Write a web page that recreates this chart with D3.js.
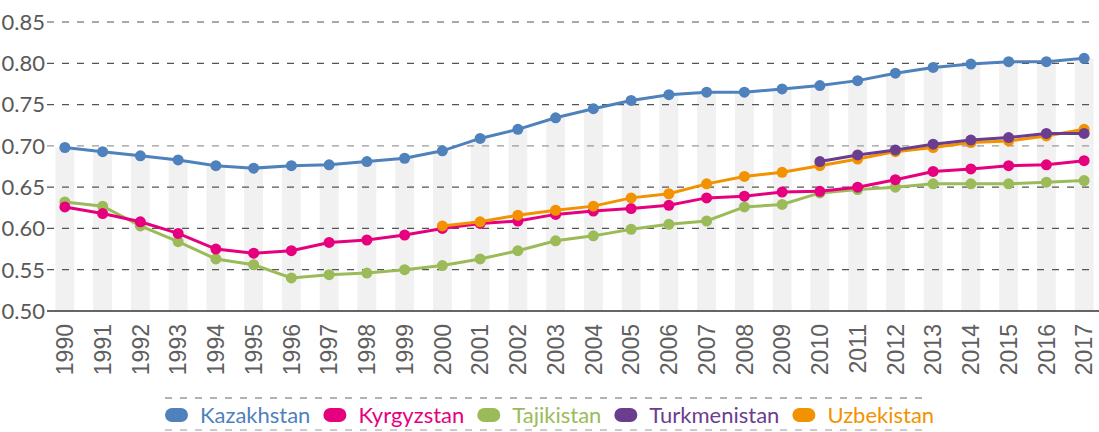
<!DOCTYPE html>
<html>
<head>
<meta charset="utf-8">
<script src="https://cdn.jsdelivr.net/npm/d3@7"></script>
<style>
  body { margin: 0; background: #fff; }
  svg { display: block; }
</style>
</head>
<body>
<div id="chart"></div>
<script>
var width = 1099,
  height = 432;

var years = d3.range(1990, 2018);
var yTicks = [0.50, 0.55, 0.60, 0.65, 0.70, 0.75, 0.80, 0.85];

var kazakhstan = [0.698, 0.693, 0.688, 0.683, 0.676, 0.673, 0.676, 0.677, 0.681, 0.685,
  0.694, 0.709, 0.720, 0.734, 0.745, 0.755, 0.762, 0.765, 0.765, 0.769,
  0.773, 0.779, 0.788, 0.795, 0.799, 0.802, 0.802, 0.806];
var kyrgyzstan = [0.626, 0.618, 0.608, 0.594, 0.575, 0.570, 0.573, 0.583, 0.586, 0.592,
  0.600, 0.606, 0.609, 0.617, 0.621, 0.624, 0.628, 0.637, 0.639, 0.644,
  0.645, 0.650, 0.659, 0.669, 0.672, 0.676, 0.677, 0.682];
var tajikistan = [0.632, 0.627, 0.603, 0.584, 0.563, 0.556, 0.540, 0.544, 0.546, 0.550,
  0.555, 0.563, 0.573, 0.585, 0.591, 0.599, 0.605, 0.609, 0.626, 0.629,
  0.643, 0.647, 0.650, 0.654, 0.654, 0.654, 0.656, 0.658];
var turkmenistan = [null, null, null, null, null, null, null, null, null, null,
  null, null, null, null, null, null, null, null, null, null,
  0.681, 0.689, 0.695, 0.702, 0.707, 0.710, 0.715, 0.715];
var uzbekistan = [null, null, null, null, null, null, null, null, null, null,
  0.603, 0.608, 0.616, 0.622, 0.627, 0.637, 0.642, 0.654, 0.663, 0.668,
  0.676, 0.684, 0.693, 0.698, 0.704, 0.706, 0.712, 0.720];

var names = ["Kazakhstan", "Kyrgyzstan", "Tajikistan", "Turkmenistan", "Uzbekistan"];
var colors = ["#4f81bd", "#e6007e", "#9bbb59", "#6b3d8f", "#f39200"];
var values = [kazakhstan, kyrgyzstan, tajikistan, turkmenistan, uzbekistan];
// drawing order (later on top)
var drawOrder = [0, 2, 1, 4, 3];

var svg = d3.select("#chart").append("svg")
  .attr("width", width)
  .attr("height", height);

var x = d3.scaleBand()
  .domain(years)
  .range([46, 1103])
  .paddingInner(0.5)
  .paddingOuter(0.25);

var y = d3.scaleLinear()
  .domain([0.5, 0.85])
  .range([311, 22]);

var cx = function(yr) { return x(yr) + x.bandwidth() / 2; };

// grey column bars
svg.append("g")
  .selectAll("rect")
  .data(years)
  .enter().append("rect")
  .attr("x", function(d) { return x(d); })
  .attr("width", x.bandwidth())
  .attr("y", function(d, i) { return y(kazakhstan[i]); })
  .attr("height", function(d, i) { return y(0.5) - y(kazakhstan[i]); })
  .attr("fill", "#f1f1f1");

// dashed gridlines
svg.append("g")
  .selectAll("line")
  .data(yTicks.slice(1))
  .enter().append("line")
  .attr("x1", 47)
  .attr("x2", 1093)
  .attr("y1", function(d) { return y(d); })
  .attr("y2", function(d) { return y(d); })
  .attr("stroke", function(d) { return d === 0.70 ? "#9a9a9a" : "#555"; })
  .attr("stroke-width", 1.2)
  .attr("stroke-dasharray", "7,8");

// y labels
svg.append("g")
  .selectAll("text")
  .data(yTicks)
  .enter().append("text")
  .attr("x", 45)
  .attr("y", function(d) { return y(d); })
  .attr("dy", "0.36em")
  .attr("text-anchor", "end")
  .attr("font-family", "Lato, 'Open Sans', sans-serif")
  .attr("font-size", 22)
  .attr("fill", "#595959")
  .text(function(d) { return d3.format(".2f")(d); });

// x axis line
svg.append("line")
  .attr("x1", 47)
  .attr("x2", 1099)
  .attr("y1", y(0.5))
  .attr("y2", y(0.5))
  .attr("stroke", "#333")
  .attr("stroke-width", 1.5);

// x labels
svg.append("g")
  .selectAll("text")
  .data(years)
  .enter().append("text")
  .attr("transform", function(d) { return "translate(" + cx(d) + ",324)rotate(-90)"; })
  .attr("dy", "0.36em")
  .attr("text-anchor", "end")
  .attr("font-family", "'Liberation Sans', Arial, sans-serif")
  .attr("font-size", 23)
  .attr("fill", "#5f5f5f")
  .text(function(d) { return d; });

var line = d3.line()
  .defined(function(d) { return d.v != null; })
  .x(function(d) { return cx(d.year); })
  .y(function(d) { return y(d.v); });

drawOrder.forEach(function(k) {
  var pts = years.map(function(yr, i) { return { year: yr, v: values[k][i] }; });
  var g = svg.append("g");
  g.append("path")
    .datum(pts)
    .attr("d", line)
    .attr("fill", "none")
    .attr("stroke", colors[k])
    .attr("stroke-width", 3);
  g.selectAll("circle")
    .data(pts.filter(function(d) { return d.v != null; }))
    .enter().append("circle")
    .attr("cx", function(d) { return cx(d.year); })
    .attr("cy", function(d) { return y(d.v); })
    .attr("r", 5.5)
    .attr("fill", colors[k]);
});

// legend
var legend = svg.append("g");
var lx = 165;
legend.append("line")
  .attr("x1", 165).attr("x2", 927)
  .attr("y1", 398).attr("y2", 398)
  .attr("stroke", "#666")
  .attr("stroke-width", 1.2)
  .attr("stroke-dasharray", "7,8");
legend.append("line")
  .attr("x1", 165).attr("x2", 927)
  .attr("y1", 430).attr("y2", 430)
  .attr("stroke", "#999")
  .attr("stroke-width", 1.2)
  .attr("stroke-dasharray", "7,8");

names.forEach(function(name, k) {
  legend.append("rect")
    .attr("x", lx)
    .attr("y", 408)
    .attr("width", 23)
    .attr("height", 14)
    .attr("rx", 7)
    .attr("fill", colors[k]);
  var t = legend.append("text")
    .attr("x", lx + 35)
    .attr("y", 415)
    .attr("dy", "0.36em")
    .attr("font-family", "Lato, 'Open Sans', sans-serif")
    .attr("font-size", 22)
    .attr("fill", colors[k])
    .text(name);
  lx = lx + 35 + t.node().getComputedTextLength() + 13;
});
</script>
</body>
</html>
